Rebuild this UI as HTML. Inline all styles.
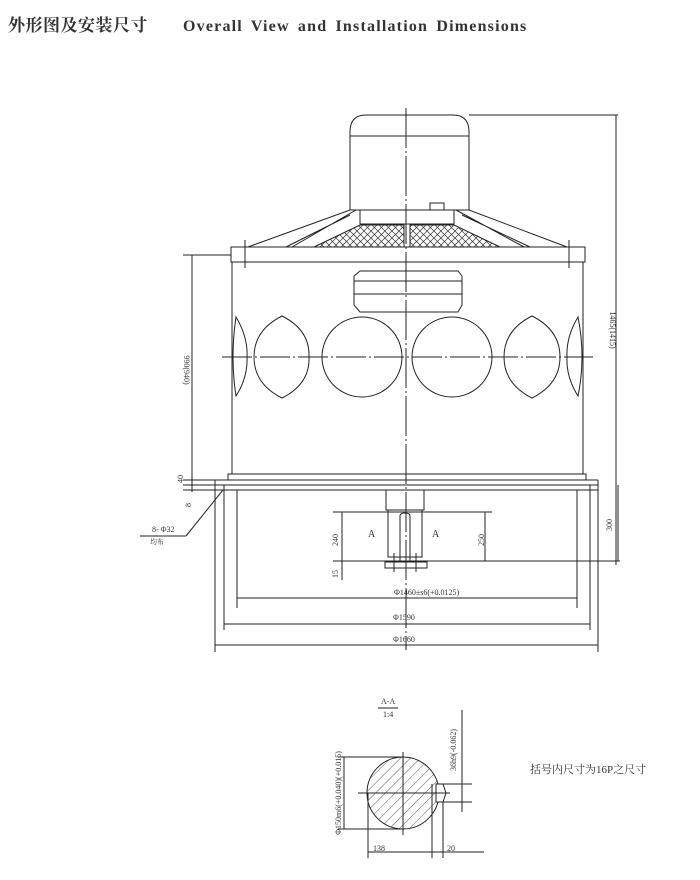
<!DOCTYPE html>
<html><head><meta charset="utf-8"><style>
body{margin:0;background:#fff}
svg{display:block}
text{font-family:"Liberation Serif","Noto Serif CJK SC",serif;fill:#333}
</style></head><body>
<svg width="700" height="880" viewBox="0 0 700 880" xmlns="http://www.w3.org/2000/svg">
<defs>
<pattern id="x" width="7" height="7" patternUnits="userSpaceOnUse">
<path d="M0 0L7 7M7 0L0 7" stroke="#333" stroke-width="0.7"/></pattern>
<pattern id="h" width="7" height="7" patternUnits="userSpaceOnUse" patternTransform="rotate(45)">
<line x1="0" y1="0" x2="0" y2="7" stroke="#333" stroke-width="0.8"/></pattern>
</defs>
<text x="8" y="31" font-size="17" font-weight="bold" letter-spacing="0.5" font-family="'Noto Serif CJK SC',serif">外形图及安装尺寸</text>
<text x="183" y="31" font-size="16" font-weight="bold" letter-spacing="1.2" word-spacing="3">Overall View and Installation Dimensions</text>
<g stroke="#222" stroke-width="1" fill="none">
<path d="M350 210V132Q350 115 366 115H453Q469 115 469 132V210"/>
<line x1="350" y1="136" x2="469" y2="136"/>
<rect x="430" y="203" width="14" height="7"/>
<path d="M248 247L350 210H469L567 247"/>
<path d="M286 247L350 215M356 210L292 247"/>
<path d="M530 247L462 215M456 210L524 247"/>
<rect x="360" y="210" width="94" height="14"/>
<path d="M314 247L360 225H404V247Z" fill="url(#x)"/>
<path d="M410 247V225H454L500 247Z" fill="url(#x)"/>
<rect x="231" y="247" width="354" height="15"/>
<line x1="245" y1="240" x2="245" y2="268"/><line x1="569" y1="240" x2="569" y2="268"/>
<rect x="232" y="262" width="351" height="212"/>
<path d="M360 271H458L462 276V305L458 312H360L354 305V276Z"/>
<line x1="354" y1="281" x2="462" y2="281"/><line x1="354" y1="294" x2="462" y2="294"/>
<circle cx="362" cy="357" r="40"/><circle cx="452" cy="357" r="40"/>
<path d="M282 316Q310 330 309 357Q310 384 282 398Q254 384 254 357Q254 330 282 316Z"/>
<path d="M532 316Q560 330 560 357Q560 384 532 398Q504 384 504 357Q504 330 532 316Z"/>
<path d="M236 317Q248 337 247 357Q248 377 236 396Q233 377 233 357Q233 337 236 317Z"/>
<path d="M578 317Q566 337 567 357Q566 377 578 396Q582 377 582 357Q582 337 578 317Z"/>
<line x1="222" y1="357" x2="593" y2="357" stroke-dasharray="30 3 2 3"/>
<line x1="406" y1="108" x2="406" y2="650" stroke-dasharray="40 3 2 3"/>
<line x1="183" y1="255" x2="231" y2="255"/>
<line x1="192" y1="255" x2="192" y2="492"/>
<line x1="469" y1="115" x2="618" y2="115"/>
<line x1="616" y1="115" x2="616" y2="565"/>
<rect x="228" y="474" width="358" height="6"/>
<line x1="183" y1="480" x2="598" y2="480"/><line x1="183" y1="485" x2="598" y2="485"/><line x1="183" y1="490" x2="598" y2="490"/>
<line x1="215" y1="480" x2="215" y2="652"/><line x1="224" y1="485" x2="224" y2="630"/><line x1="237" y1="490" x2="237" y2="608"/>
<line x1="577" y1="490" x2="577" y2="608"/><line x1="590" y1="485" x2="590" y2="630"/><line x1="598" y1="480" x2="598" y2="652"/>
<line x1="223" y1="490" x2="186" y2="536"/><line x1="186" y1="536" x2="140" y2="536"/>
<rect x="386" y="490" width="38" height="20"/>
<path d="M388 510V557H422V510"/>
<path d="M400 562V516Q400 513 405 513Q410 513 410 516V562"/>
<rect x="385" y="562" width="42" height="6"/>
<line x1="394" y1="553" x2="394" y2="572"/><line x1="416" y1="553" x2="416" y2="572"/>
<line x1="333" y1="512" x2="492" y2="512"/>
<line x1="333" y1="561" x2="620" y2="561"/>
<line x1="342" y1="512" x2="342" y2="580"/><line x1="485" y1="512" x2="485" y2="561"/>
<line x1="618" y1="485" x2="618" y2="561"/>
<line x1="237" y1="598" x2="577" y2="598"/>
<line x1="224" y1="624" x2="590" y2="624"/>
<line x1="215" y1="645" x2="598" y2="645"/>
<circle cx="403" cy="793" r="36" fill="url(#h)"/>
<path d="M436 784H443L446 793L443 802H436Z" fill="#fff"/>
<line x1="358" y1="793" x2="450" y2="793"/><line x1="403" y1="752" x2="403" y2="835"/>
<line x1="338" y1="757" x2="403" y2="757"/><line x1="338" y1="829" x2="403" y2="829"/>
<line x1="344" y1="757" x2="344" y2="829"/>
<line x1="368" y1="793" x2="368" y2="858"/><line x1="432" y1="784" x2="432" y2="858"/><line x1="443" y1="802" x2="443" y2="858"/>
<line x1="368" y1="852" x2="484" y2="852"/>
<line x1="443" y1="784" x2="472" y2="784"/><line x1="443" y1="802" x2="472" y2="802"/>
<line x1="462" y1="710" x2="462" y2="812"/>
<line x1="378" y1="708" x2="398" y2="708"/>
</g>
<g font-size="8">
<text transform="translate(184 370) rotate(90)" text-anchor="middle">990(940)</text>
<text transform="translate(610 330) rotate(90)" text-anchor="middle">1465(1415)</text>
<text transform="translate(183 483) rotate(-90)">40</text>
<text transform="translate(191 507) rotate(-90)">8</text>
<text x="152" y="532">8- Φ32</text>
<text x="150" y="544" font-family="'Noto Serif CJK SC',serif" font-size="7">均布</text>
<text transform="translate(338 540) rotate(-90)" text-anchor="middle">240</text>
<text transform="translate(484 540) rotate(-90)" text-anchor="middle">250</text>
<text transform="translate(612 525) rotate(-90)" text-anchor="middle">300</text>
<text transform="translate(338 578) rotate(-90)">15</text>
<text x="368" y="537" font-size="10">A</text><text x="432" y="537" font-size="10">A</text>
<text x="394" y="595">Φ1460±s6(+0.0125)</text>
<text x="393" y="620">Φ1590</text>
<text x="393" y="642">Φ1660</text>
<text x="381" y="704">A-A</text><text x="383" y="717">1:4</text>
<text transform="translate(341 793) rotate(-90)" text-anchor="middle">Φ150m6(+0.040)(+0.015)</text>
<text transform="translate(456 750) rotate(-90)" text-anchor="middle">36h9(-0.062)</text>
<text x="373" y="851">138</text><text x="447" y="851">20</text>
</g>
<text x="530" y="773" font-size="11" font-family="'Noto Sans CJK SC',sans-serif">括号内尺寸为16P之尺寸</text>
</svg>
</body></html>
